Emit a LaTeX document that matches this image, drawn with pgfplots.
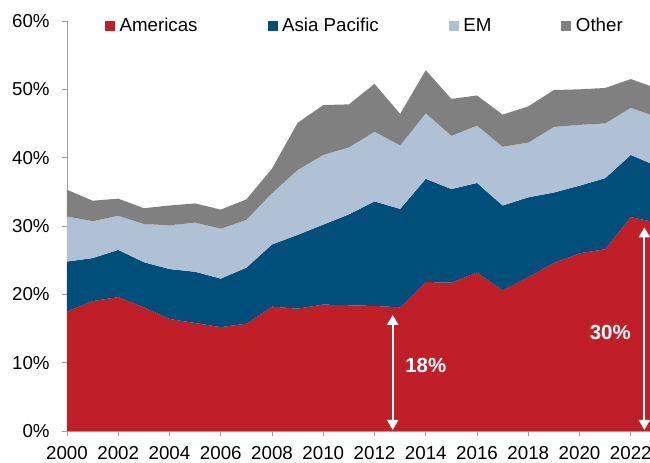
\documentclass[border=0pt]{standalone}
\usepackage{pgfplots}
\pgfplotsset{compat=1.18}
\usepackage{pgfplotstable}
\usepackage{fontspec}
\setmainfont{Liberation Sans}
\usetikzlibrary{arrows.meta}
\definecolor{cRed}{RGB}{192,31,40}
\definecolor{cDark}{RGB}{0,79,122}
\definecolor{cLight}{RGB}{176,193,214}
\definecolor{cGray}{RGB}{128,128,128}
\definecolor{axisgray}{RGB}{160,160,160}

\pgfplotstableread{
year    am    ap    em    ot
2000    17.5  7.3   6.6   3.9
2001    19.0  6.3   5.4   3.0
2002    19.6  6.9   5.0   2.5
2003    18.1  6.6   5.6   2.3
2004    16.4  7.3   6.4   2.9
2005    15.8  7.5   7.2   2.8
2006    15.2  7.1   7.3   2.8
2007    15.7  8.2   7.0   3.0
2008    18.2  9.1   7.5   3.6
2009    17.9  10.8  9.5   6.9
2010    18.5  11.7  10.2  7.3
2011    18.4  13.3  9.8   6.3
2012    18.3  15.3  10.2  7.0
2013    18.1  14.4  9.3   4.6
2014    21.8  15.1  9.6   6.3
2015    21.7  13.7  7.8   5.4
2016    23.2  13.1  8.4   4.4
2017    20.6  12.4  8.6   4.7
2018    22.5  11.7  8.0   5.3
2019    24.6  10.3  9.6   5.4
2020    26.0  9.9   8.9   5.2
2021    26.6  10.4  8.0   5.2
2022    31.3  9.1   6.9   4.2
2022.75 30.7  8.5   7.1   4.2
}\datatable

\begin{document}
\begin{tikzpicture}
\path[use as bounding box] (-67bp,-32bp) rectangle (583bp,431bp);
\begin{axis}[
  at={(0,0)}, anchor=south west,
  scale only axis, width=583bp, height=410bp,
  xmin=2000, xmax=2022.75, ymin=0, ymax=60,
  no markers,
  axis x line*=bottom, axis y line*=left,
  axis line style={axisgray, line width=0.8bp},
  xtick={2000,2002,...,2022}, ytick={0,10,...,60},
  tick align=outside, major tick length=5bp,
  tick style={axisgray, line width=0.8bp},
  /pgf/number format/assume math mode=true,
  /pgf/number format/1000 sep={},
  yticklabel={\pgfmathprintnumber{\tick}\%},
  ticklabel style={font=\fontsize{18.8}{22}\selectfont, text=black, inner sep=0pt, outer sep=0pt},
  xticklabel style={anchor=north, yshift=-10bp},
  yticklabel style={anchor=east, xshift=-12.4bp},
  legend style={draw=none, fill=none, at={(axis description cs:0.0652,0.988)}, anchor=west,
    legend columns=4, inner sep=0pt, outer sep=0pt,
    font=\fontsize{18.8}{22}\selectfont,
    nodes={inner sep=0pt, outer sep=0pt},
    /tikz/every odd column/.style={column sep=4.5bp},
    /tikz/every even column/.style={column sep=70bp}},
  legend image code/.code={\fill[#1] (0bp,-5bp) rectangle (10bp,5bp);},
]
\addplot[stack plots=y, fill=cRed, draw=none] table[x=year, y=am] {\datatable} \closedcycle;
\addlegendentry{Americas}
\addplot[stack plots=y, fill=cDark, draw=none] table[x=year, y=ap] {\datatable} \closedcycle;
\addlegendentry{Asia Pacific}
\addplot[stack plots=y, fill=cLight, draw=none] table[x=year, y=em] {\datatable} \closedcycle;
\addlegendentry{EM}
\addplot[stack plots=y, fill=cGray, draw=none] table[x=year, y=ot] {\datatable} \closedcycle;
\addlegendentry{Other}

\coordinate (a1b) at (axis cs:2012.71,0.15);
\coordinate (a1t) at (axis cs:2012.71,17.0);
\coordinate (a2b) at (axis cs:2022.53,0.15);
\coordinate (a2t) at (axis cs:2022.53,29.8);
\coordinate (l1) at (axis cs:2014.0,9.6);
\coordinate (l2) at (axis cs:2021.2,14.4);
\end{axis}
\draw[white, line width=2bp, {Triangle[width=11bp,length=10bp]}-{Triangle[width=11bp,length=10bp]}]
  (a1b) -- (a1t);
\draw[white, line width=2bp, {Triangle[width=11bp,length=10bp]}-{Triangle[width=11bp,length=10bp]}]
  (a2b) -- (a2t);
\node[text=white, font=\bfseries\fontsize{20.5}{24}\selectfont] at (l1) {18\%};
\node[text=white, font=\bfseries\fontsize{20.5}{24}\selectfont] at (l2) {30\%};
\end{tikzpicture}
\end{document}
